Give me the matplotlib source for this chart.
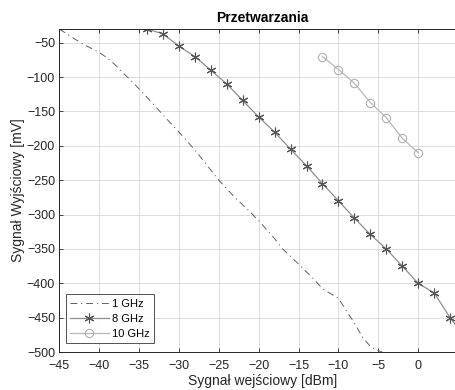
import matplotlib
matplotlib.use("Agg")
import matplotlib.pyplot as plt
import numpy as np

plt.rcParams['font.family'] = ['Liberation Sans', 'DejaVu Sans']

# 1 GHz series
x_1ghz = [-45, -43, -42, -40, -39, -38, -37, -36, -35, -33, -32, -30, -28, -25, -23, -21, -20,
          -18, -17, -15, -13, -12, -11, -10, -9, -8, -7, -6, -5, -4.5]
y_1ghz = [-30, -45, -52, -64, -72, -82, -94, -105, -117, -142, -155, -180, -206, -250, -275, -297, -309,
          -335, -350, -372, -395, -408, -415, -422, -440, -458, -478, -492, -498, -500]

# 8 GHz series
x_8ghz = [-34, -32, -30, -28, -26, -24, -22, -20, -18, -16, -14, -12, -10, -8, -6, -4, -2, 0, 2, 4, 6]
y_8ghz = [-30, -37, -55, -70, -90, -110, -134, -158, -180, -205, -229, -255, -280, -305, -329,
          -350, -375, -400, -414, -450, -480]

# 10 GHz series
x_10ghz = [-12, -10, -8, -6, -4, -2, 0]
y_10ghz = [-70, -89, -109, -137, -159, -189, -210]

labels = ['1 GHz', '8 GHz', '10 GHz']
xticks = list(range(-45, 1, 5))
yticks = list(range(-500, -49, 50))

fig = plt.figure(figsize=(4.55, 3.9), dpi=100)
ax = fig.add_axes([0.1303, 0.0974, 0.894, 0.8282])

ax.plot(x_1ghz, y_1ghz, linestyle=(0, (7, 4, 1.2, 4)), color='#606060', linewidth=0.7,
        label=labels[0])
ax.plot(x_8ghz, y_8ghz, linestyle='-', color='#8f8f8f', linewidth=0.9, marker=(6, 2, 0),
        markersize=7, markeredgecolor='#555555', markeredgewidth=0.8, label=labels[1])
ax.plot(x_10ghz, y_10ghz, linestyle='-', color='#b8b8b8', linewidth=0.9, marker='o',
        markersize=6, markerfacecolor='none', markeredgecolor='#b0b0b0',
        markeredgewidth=0.8, label=labels[2])

ax.set_xlim(-45, 6)
ax.set_ylim(-500, -30)
ax.set_xticks(xticks)
ax.set_yticks(yticks)
ax.grid(True, color='#dcdcdc', linewidth=0.7)
ax.set_axisbelow(True)
ax.tick_params(direction='in', top=True, right=True, labelsize=9, colors='#262626',
               length=3, width=0.6)
ax.tick_params(axis='x', pad=6)
ax.tick_params(axis='y', pad=3)
for sp in ax.spines.values():
    sp.set_color('#262626')
    sp.set_linewidth(0.7)

ax.set_title('Przetwarzania', fontsize=10, fontweight='bold', pad=5)
ax.set_xlabel('Sygnał wejściowy [dBm]', fontsize=10, color='#262626', labelpad=1)
ax.set_ylabel('Sygnał Wyjściowy [mV]', fontsize=10, color='#262626', labelpad=1)

leg = ax.legend(loc='lower left', bbox_to_anchor=(0.0155, 0.027), fontsize=8,
                frameon=True, fancybox=False, edgecolor='#262626', handlelength=3.5,
                handletextpad=0.3, borderpad=0.4, labelspacing=0.45, borderaxespad=0)
leg.get_frame().set_linewidth(0.7)

fig.savefig('out.png', dpi=100)
